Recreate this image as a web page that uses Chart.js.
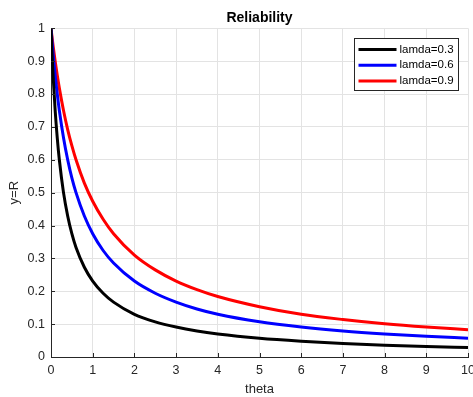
<!DOCTYPE html>
<html>
<head>
<meta charset="utf-8">
<script src="https://cdn.jsdelivr.net/npm/chart.js@4"></script>
<style>
  html, body { margin: 0; padding: 0; background: #fff; }
  #wrap { width: 473px; height: 397px; position: relative; }
</style>
</head>
<body>
<div id="wrap"><canvas id="c" width="473" height="397"></canvas></div>
<script>
// Values
const theta = [0, 0.02, 0.05, 0.1, 0.15, 0.2, 0.3, 0.4, 0.5, 0.6, 0.8, 1, 1.25, 1.5, 2, 2.5, 3, 3.5, 4, 5, 6, 7, 8, 9, 10];
const rLamda03 = [1, 0.937, 0.857, 0.75, 0.667, 0.6, 0.5, 0.429, 0.375, 0.333, 0.273, 0.231, 0.194, 0.167, 0.130, 0.107, 0.091, 0.079, 0.070, 0.057, 0.048, 0.041, 0.036, 0.032, 0.029];
const rLamda06 = [1, 0.968, 0.923, 0.857, 0.8, 0.75, 0.667, 0.6, 0.545, 0.5, 0.429, 0.375, 0.324, 0.286, 0.231, 0.194, 0.167, 0.146, 0.130, 0.107, 0.091, 0.079, 0.070, 0.063, 0.057];
const rLamda09 = [1, 0.978, 0.947, 0.9, 0.857, 0.818, 0.75, 0.692, 0.643, 0.6, 0.529, 0.474, 0.419, 0.375, 0.310, 0.265, 0.231, 0.205, 0.184, 0.153, 0.130, 0.114, 0.101, 0.091, 0.083];
const seriesLabels = ['lamda=0.3', 'lamda=0.6', 'lamda=0.9'];
const seriesColors = ['#000000', '#0000ff', '#ff0000'];
const xTickValues = [0,1,2,3,4,5,6,7,8,9,10];
const yTickValues = [0,0.1,0.2,0.3,0.4,0.5,0.6,0.7,0.8,0.9,1];

const FONT = "'Liberation Sans', Arial, Helvetica, sans-serif";
const AXIS = '#262626';
const GRID = '#e3e3e3';

function pts(ys) { return theta.map((t, i) => ({ x: t, y: ys[i] })); }

const inwardTicks = {
  id: 'inwardTicks',
  afterDatasetsDraw(chart) {
    const ctx = chart.ctx, a = chart.chartArea;
    const xs = chart.scales.x, ys = chart.scales.y;
    ctx.save();
    ctx.strokeStyle = AXIS; ctx.lineWidth = 1;
    ctx.beginPath();
    xTickValues.forEach(v => {
      const px = Math.round(xs.getPixelForValue(v)) + 0.5;
      ctx.moveTo(px, a.bottom); ctx.lineTo(px, a.bottom - 4);
    });
    yTickValues.forEach(v => {
      const py = Math.round(ys.getPixelForValue(v)) + 0.5;
      ctx.moveTo(a.left, py); ctx.lineTo(a.left + 4, py);
    });
    ctx.stroke();
    ctx.restore();
  }
};

const boxLegend = {
  id: 'boxLegend',
  afterDraw(chart) {
    const ctx = chart.ctx, a = chart.chartArea;
    const w = 104, h = 52;
    const x0 = Math.round(a.right - 10 - w) + 0.5, y0 = Math.round(a.top + 10) + 0.5;
    ctx.save();
    ctx.fillStyle = '#fff';
    ctx.fillRect(x0, y0, w, h);
    ctx.strokeStyle = AXIS; ctx.lineWidth = 1;
    ctx.strokeRect(x0, y0, w, h);
    ctx.font = '11.5px ' + FONT;
    ctx.textBaseline = 'middle';
    ctx.textAlign = 'left';
    chart.data.datasets.forEach((ds, i) => {
      const yy = y0 + 11 + i * 15.7;
      ctx.strokeStyle = ds.borderColor; ctx.lineWidth = 3;
      ctx.beginPath(); ctx.moveTo(x0 + 4, yy); ctx.lineTo(x0 + 42, yy); ctx.stroke();
      ctx.fillStyle = '#000';
      ctx.fillText(ds.label, x0 + 45, yy);
    });
    ctx.restore();
  }
};

new Chart(document.getElementById('c'), {
  type: 'line',
  data: {
    datasets: [
      { label: seriesLabels[0], data: pts(rLamda03), borderColor: seriesColors[0] },
      { label: seriesLabels[1], data: pts(rLamda06), borderColor: seriesColors[1] },
      { label: seriesLabels[2], data: pts(rLamda09), borderColor: seriesColors[2] }
    ]
  },
  options: {
    responsive: false,
    animation: false,
    elements: {
      point: { radius: 0 },
      line: { borderWidth: 3, cubicInterpolationMode: 'monotone', fill: false }
    },
    layout: { padding: { left: 0, right: 5, top: 0, bottom: 0 } },
    plugins: {
      legend: { display: false },
      tooltip: { enabled: false },
      title: {
        display: true, text: 'Reliability', fullSize: false,
        color: '#000', font: { family: FONT, size: 14, weight: 'bold', lineHeight: 1.2 },
        padding: { top: 9.5, bottom: 2 }
      }
    },
    scales: {
      x: {
        type: 'linear', min: 0, max: 10,
        afterBuildTicks(s) { s.ticks = xTickValues.map(v => ({ value: v })); },
        afterFit(s) { s.height = 40; s.paddingLeft = 0; s.paddingRight = 0; },
        ticks: { color: AXIS, font: { family: FONT, size: 12.5 }, padding: 6, maxRotation: 0,
                 callback: v => String(v) },
        grid: { color: GRID, drawTicks: false },
        border: { color: AXIS, width: 1 },
        title: { display: true, text: 'theta', color: AXIS, font: { family: FONT, size: 13, lineHeight: 1.2 }, padding: { top: 0, bottom: 0 } }
      },
      y: {
        type: 'linear', min: 0, max: 1,
        afterBuildTicks(s) { s.ticks = yTickValues.map(v => ({ value: v })); },
        afterFit(s) { s.width = 51; s.paddingTop = 0; s.paddingBottom = 0; },
        ticks: { color: AXIS, font: { family: FONT, size: 12.5 }, padding: 6,
                 callback: v => String(Math.round(v * 10) / 10) },
        grid: { color: GRID, drawTicks: false },
        border: { color: AXIS, width: 1 },
        title: { display: true, text: 'y=R', color: AXIS, font: { family: FONT, size: 13, lineHeight: 1.2 }, padding: { top: 7, bottom: 0 } }
      }
    }
  },
  plugins: [inwardTicks, boxLegend]
});
</script>
</body>
</html>
